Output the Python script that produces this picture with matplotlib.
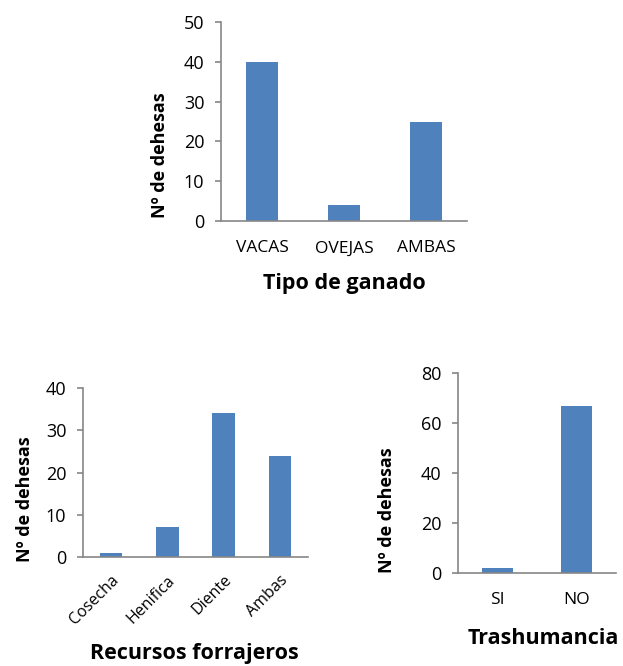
import matplotlib.pyplot as plt

plt.rcParams['font.family'] = ['Open Sans', 'DejaVu Sans']

# datos de las encuestas
ganado_cats = ["VACAS", "OVEJAS", "AMBAS"]
ganado_vals = [40, 4, 25]

recursos_cats = ["Cosecha", "Henifica", "Diente", "Ambas"]
recursos_vals = [1, 7, 34, 24]

trashum_cats = ["SI", "NO"]
trashum_vals = [2, 67]

BAR = "#4F81BD"
AXIS = "#868686"
W, H = 623, 666


def px_axes(fig, left, right, top, bottom):
    return fig.add_axes([left / W, (H - bottom) / H, (right - left) / W, (bottom - top) / H])


def px_text(fig, x, y, s, **kw):
    fig.text(x / W, 1 - y / H, s, ha='center', va='center', **kw)


def bar_chart(ax, cats, vals, ymax, step, rot=0):
    x = range(len(cats))
    ax.bar(x, vals, width=0.4, color=BAR, zorder=2)
    ax.set_xlim(-0.5, len(cats) - 0.5)
    ax.set_ylim(0, ymax)
    ax.set_yticks(range(0, ymax + 1, step))
    ax.set_xticks(list(x))
    if rot:
        ax.set_xticklabels(cats, rotation=rot, ha='right', rotation_mode='anchor', fontsize=11.5)
        ax.tick_params(axis='x', length=0, pad=11)
    else:
        ax.set_xticklabels(cats, fontsize=12.5)
        ax.tick_params(axis='x', length=0, pad=14)
    for s in ['top', 'right']:
        ax.spines[s].set_visible(False)
    for s in ['left', 'bottom']:
        ax.spines[s].set_color(AXIS)
        ax.spines[s].set_linewidth(1.2)
    ax.tick_params(axis='y', length=4, width=1.2, color=AXIS, labelsize=13, pad=8)


fig = plt.figure(figsize=(W / 100, H / 100), dpi=100)
ylab = dict(rotation=90, fontsize=13, fontweight='bold')
tit = dict(fontsize=15.5, fontweight='bold')

ax1 = px_axes(fig, 221, 467, 22, 221)
bar_chart(ax1, ganado_cats, ganado_vals, 50, 10)
px_text(fig, 160, 155, "Nº de dehesas", **ylab)
px_text(fig, 344, 284, "Tipo de ganado", **tit)

ax2 = px_axes(fig, 83, 308, 388, 557)
bar_chart(ax2, recursos_cats, recursos_vals, 40, 10, rot=45)
px_text(fig, 25, 499, "Nº de dehesas", **ylab)
px_text(fig, 194, 653, "Recursos forrajeros", **tit)

ax3 = px_axes(fig, 458, 616, 373, 573)
bar_chart(ax3, trashum_cats, trashum_vals, 80, 20)
px_text(fig, 387, 510, "Nº de dehesas", **ylab)
px_text(fig, 543, 638, "Trashumancia", **tit)

fig.savefig("out.png", dpi=100)
